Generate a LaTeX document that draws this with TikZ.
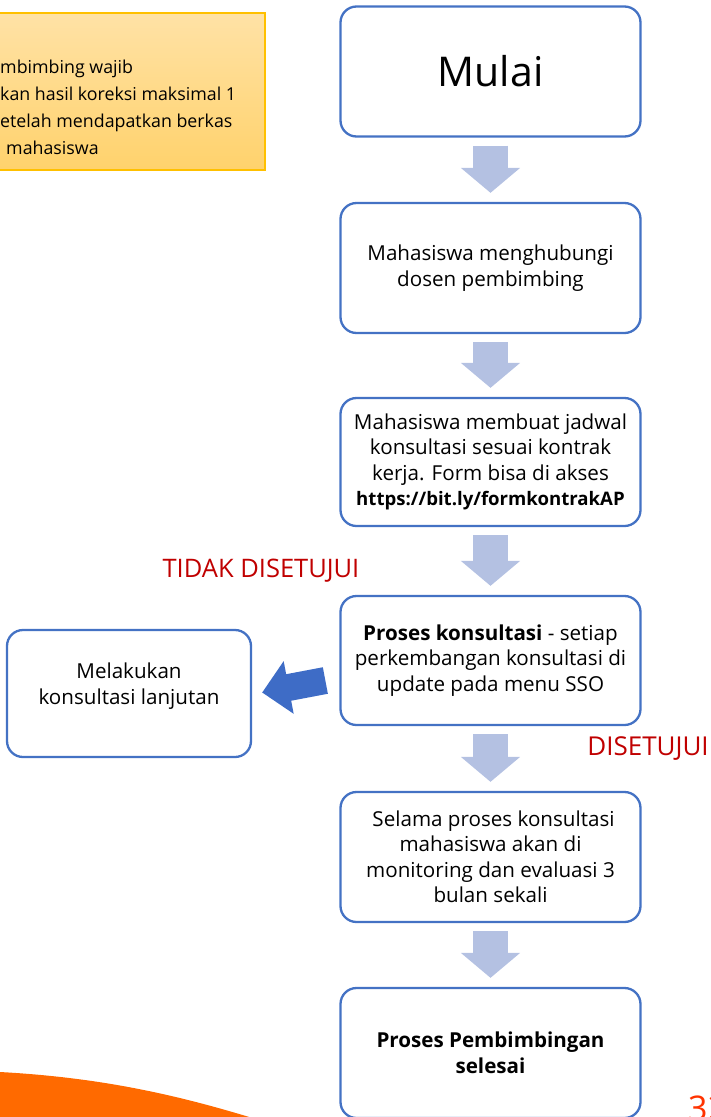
\documentclass[tikz,border=0pt]{standalone}
\usepackage{fontspec}
\setmainfont{Open Sans}
\usetikzlibrary{arrows.meta,calc}
\definecolor{boxblue}{RGB}{68,114,196}
\definecolor{arrowblue}{RGB}{180,193,226}
\definecolor{sideblue}{RGB}{62,108,198}
\definecolor{notered}{RGB}{192,0,0}
\definecolor{noteborder}{RGB}{255,192,0}
\definecolor{notetop}{RGB}{255,226,166}
\definecolor{notebottom}{RGB}{255,210,108}
\definecolor{swoosh}{RGB}{255,106,0}
\definecolor{pagered}{RGB}{255,51,0}

\begin{document}
\begin{tikzpicture}[x=1pt,y=-1pt,every node/.style={inner sep=0pt},
	stepbox/.style={draw=boxblue,line width=2.3pt,rounded corners=16pt,fill=white,minimum width=300pt,minimum height=130pt,align=center,font=\fontsize{20.6}{25.5}\selectfont},
	downarrow/.style={draw=arrowblue,line width=35pt,-{Triangle[width=58pt,length=25pt]},shorten <=8pt,shorten >=9pt},
	sidearrow/.style={draw=sideblue,line width=27pt,-{Triangle[width=52pt,length=27pt]}},
	redlabel/.style={text=notered,font=\fontsize{25.5}{26}\selectfont}]
		\useasboundingbox (0,0) rectangle (711,1117);
		\clip (0,0) rectangle (711,1117);
		
		\draw[draw=noteborder,line width=1.5pt,top color=notetop,bottom color=notebottom] (-10,13) rectangle (265,170);
		\node[anchor=north west,align=left,font=\fontsize{17.8}{27}\selectfont] (note) at (0,59.5)
		{mbimbing wajib\\kan hasil koreksi maksimal 1\\etelah mendapatkan berkas\\\hspace*{6pt}mahasiswa};
		
		\fill[swoosh] (0,1072) .. controls (110,1078) and (190,1098) .. (275,1125) -- (0,1125) -- cycle;
		
		\node[stepbox,font=\fontsize{41}{41}\selectfont] (mulai) at (490.5,71.5) {Mulai};
		\node[stepbox] (hubungi) at (490.5,268) {Mahasiswa menghubungi\\dosen pembimbing};
		\node[stepbox,minimum height=128pt] (jadwal) at (490.5,462)
		{Mahasiswa membuat jadwal\\konsultasi sesuai kontrak\\kerja. Form bisa di akses\\\textbf{\fontsize{18.6}{25.5}\selectfont https://bit.ly/formkontrakAP}};
		\node[stepbox,minimum height=129pt] (proses) at (490.5,660.5)
		{\textbf{Proses konsultasi} - setiap\\perkembangan konsultasi di\\update pada menu SSO};
		\node[stepbox] (monev) at (490.5,857)
		{\hspace*{6pt}Selama proses konsultasi\\mahasiswa akan di\\monitoring dan evaluasi 3\\bulan sekali};
		\node[stepbox] (selesai) at (490.5,1053) {\textbf{Proses Pembimbingan}\\\textbf{selesai}};
		\node[stepbox,minimum width=244pt,minimum height=127pt] (lanjut) at (129,693.5)
		{Melakukan\\konsultasi lanjutan\\[-6pt]\mbox{}};
		
		\foreach \a/\b in {mulai/hubungi,hubungi/jadwal,jadwal/proses,proses/monev,monev/selesai}
		\draw[downarrow] (\a.south) -- (\b.north);
		\draw[sidearrow] ($(proses.west)+(-14,20)$) -- ($(lanjut.east)+(10,-1)$);
		
		\node[redlabel] (tidak) at (261,571) {TIDAK DISETUJUI};
		\node[redlabel,font=\fontsize{26}{26}\selectfont] (setuju) at (648,749) {DISETUJUI};
		\node[anchor=base west,text=pagered,font=\fontsize{34}{34}\selectfont] (page) at (688,1120) {32};
	\end{tikzpicture}
\end{document}
